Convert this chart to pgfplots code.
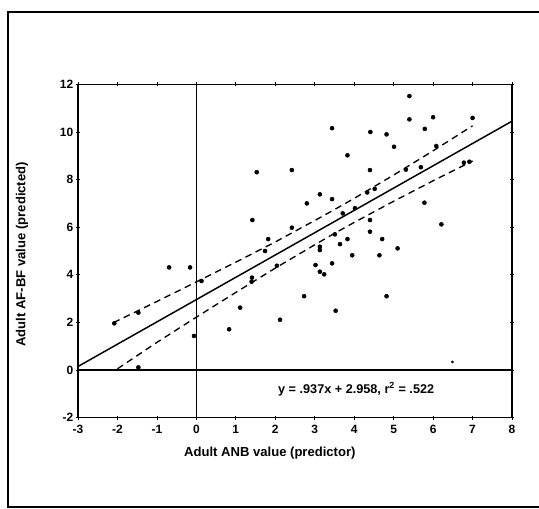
\documentclass[border=0pt]{standalone}
\usepackage{pgfplots}
\pgfplotsset{compat=1.18}
\usepackage{fontspec}
\setmainfont{Liberation Sans}
\begin{document}
\begin{tikzpicture}
\useasboundingbox (0pt,0pt) rectangle (404.25pt,381.75pt);
\draw[line width=1.1pt] (404.25pt,372.75pt) -- (6pt,372.75pt) -- (6pt,1.5pt) -- (404.25pt,1.5pt);
\begin{axis}[
  at={(58.5pt,68.55pt)}, anchor=south west,
  scale only axis, width=325.5pt, height=249.9pt,
  xmin=-3, xmax=8, ymin=-2, ymax=12,
  xtick={-3,-2,-1,0,1,2,3,4,5,6,7,8},
  xticklabels={-3,-2,-1,0,1,2,3,4,5,6,7,8},
  ytick={-2,0,2,4,6,8,10,12},
  yticklabels={-2,0,2,4,6,8,10,12},
  minor y tick num=1,
  tick align=center, tick pos=both,
  major tick length=3pt, minor tick length=2pt,
  every tick/.style={black, line width=0.6pt},
  axis line style={line width=0.9pt},
  ticklabel style={font=\fontsize{9}{10}\selectfont\bfseries},
  xticklabel style={yshift=-0.5pt},
  yticklabel style={xshift=1.5pt},
  xlabel={Adult ANB value (predictor)},
  ylabel={Adult AF-BF value (predicted)},
  label style={font=\fontsize{9.8}{12}\selectfont\bfseries},
  xlabel style={at={(axis description cs:0.442,-0.107)}, anchor=center},
  ylabel style={at={(axis description cs:-0.129,0.49)}, anchor=center, rotate=0},
  clip=true,
]
% reference lines
\addplot[black, line width=1.4pt] coordinates {(-3,0) (8,0)};
\addplot[black, line width=0.6pt] coordinates {(0,-2) (0,12)};
% regression line
\addplot[black, line width=1.1pt] coordinates {(-3,0.147) (8,10.454)};
% confidence bands
\addplot[black, line width=1.0pt, dash pattern=on 5pt off 3.5pt] coordinates {
(-2.1,1.99) (-2,2.07) (-1,2.88) (0,3.70) (1,4.53) (2,5.38) (3,6.28) (3.5,6.74) (4,7.21) (5,8.19) (6,9.21) (7,10.26)};
\addplot[black, line width=1.0pt, dash pattern=on 5pt off 3.5pt] coordinates {
(-2.0,0.05) (-1,1.16) (0,2.22) (1,3.26) (2,4.28) (3,5.26) (3.5,5.74) (4,6.20) (5,7.09) (6,7.95) (7,8.78)};
% data points
\addplot[only marks, mark=*, mark size=1.5pt, black] table {
x y
-2.08 1.96
-1.47 2.41
-1.47 0.11
-0.69 4.31
-0.16 4.31
-0.06 1.43
0.13 3.74
0.83 1.71
1.11 2.62
1.42 6.30
1.53 8.31
1.41 3.88
1.40 3.71
1.74 5.00
1.82 5.50
2.04 4.38
2.12 2.11
2.42 8.40
2.42 5.98
2.73 3.10
2.80 7.00
3.02 4.41
3.13 7.38
3.13 5.18
3.13 5.04
3.13 4.13
3.24 4.02
3.44 10.16
3.44 7.18
3.44 4.48
3.51 5.70
3.53 2.49
3.64 5.29
3.71 6.58
3.83 9.02
3.83 5.50
3.95 4.82
4.02 6.80
4.33 7.46
4.41 10.00
4.40 8.40
4.40 6.30
4.40 5.81
4.52 7.61
4.64 4.82
4.71 5.50
4.82 9.90
4.82 3.10
5.01 9.38
5.10 5.11
5.31 8.42
5.40 11.51
5.40 10.53
5.69 8.52
5.78 7.03
5.79 10.13
6.00 10.62
6.08 9.41
6.21 6.12
6.78 8.71
6.92 8.75
7.00 10.59
};
\addplot[only marks, mark=*, mark size=0.8pt, black] coordinates {(6.49,0.34)};
\node[font=\fontsize{9.5}{11}\selectfont\bfseries, anchor=center] at (axis cs:4.05,-0.80) {y = .937x + 2.958, r\textsuperscript{2} = .522};
\end{axis}
\end{tikzpicture}
\end{document}
